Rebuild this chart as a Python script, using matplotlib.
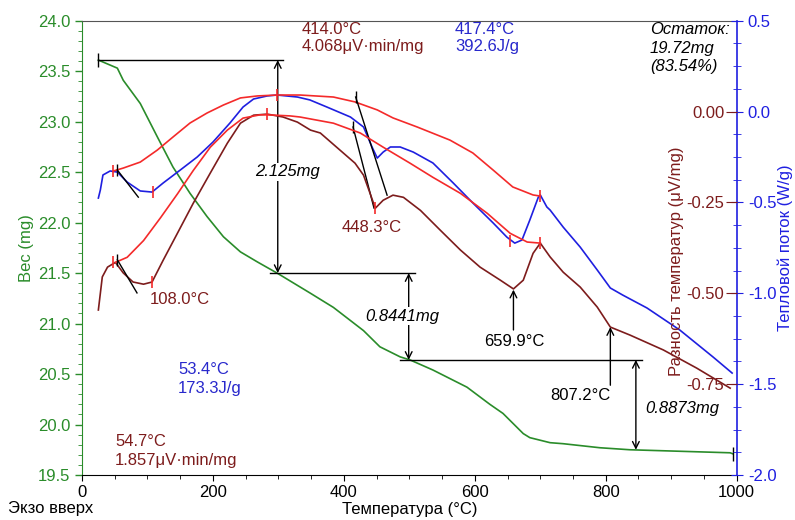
import matplotlib
matplotlib.use('Agg')
import matplotlib.pyplot as plt
from matplotlib.ticker import MultipleLocator, FormatStrFormatter

plt.rcParams['font.family'] = ['Liberation Sans', 'DejaVu Sans']
plt.rcParams['axes.unicode_minus'] = False

# TG curve: weight (mg) vs temperature
tg_t = [25, 54, 63, 89, 115, 139, 165, 191, 216, 242, 268, 298, 349, 384, 430, 455, 486,
        501, 536, 588, 623, 643, 674, 684, 715, 735, 791, 837, 990, 994]
tg_w = [23.61, 23.53, 23.41, 23.18, 22.85, 22.55, 22.29, 22.06, 21.86, 21.71, 21.61, 21.50,
        21.30, 21.16, 20.93, 20.77, 20.67, 20.64, 20.54, 20.37, 20.20, 20.11, 19.91, 19.87,
        19.82, 19.81, 19.77, 19.75, 19.72, 19.71]

# heat flow curve (W/g)
hf_t = [25, 28, 32, 43, 54, 69, 89, 107, 124, 150, 176, 200, 226, 246, 262, 283, 298, 329,
        348, 374, 410, 430, 443, 451, 460, 471, 486, 506, 536, 567, 597, 628, 649, 661, 672,
        684, 697, 700, 710, 715, 735, 761, 787, 807, 826, 863, 913, 964, 993]
hf_v = [-0.476, -0.432, -0.349, -0.327, -0.333, -0.388, -0.437, -0.443, -0.393, -0.322,
        -0.250, -0.168, -0.063, 0.025, 0.069, 0.086, 0.091, 0.080, 0.064, 0.025, -0.030,
        -0.085, -0.195, -0.256, -0.223, -0.195, -0.195, -0.223, -0.283, -0.393, -0.503,
        -0.613, -0.691, -0.724, -0.707, -0.597, -0.471, -0.459, -0.525, -0.542, -0.636,
        -0.746, -0.872, -0.971, -1.010, -1.081, -1.202, -1.351, -1.439]

# heat flow baseline
hfb_t = [48, 63, 89, 115, 139, 165, 191, 216, 242, 268, 298, 333, 384, 417, 451, 475, 512,
         562, 597, 628, 658, 689, 700]
hfb_v = [-0.327, -0.311, -0.278, -0.212, -0.140, -0.063, -0.008, 0.036, 0.075, 0.086,
         0.091, 0.091, 0.080, 0.053, 0.009, -0.035, -0.085, -0.157, -0.228, -0.322, -0.415,
         -0.459, -0.465]

# DTA curve (uV/mg)
dta_t = [25, 31, 39, 51, 63, 78, 94, 107, 124, 146, 170, 196, 222, 242, 262, 283, 307, 329,
         349, 364, 394, 417, 430, 440, 448, 460, 475, 491, 517, 547, 578, 608, 639, 659, 674,
         689, 700, 715, 735, 761, 787, 807, 837, 888, 939, 990]
dta_v = [-0.546, -0.455, -0.428, -0.415, -0.444, -0.469, -0.475, -0.469, -0.409, -0.334,
         -0.252, -0.169, -0.087, -0.032, -0.010, -0.007, -0.015, -0.029, -0.051, -0.059,
         -0.106, -0.142, -0.175, -0.225, -0.266, -0.244, -0.230, -0.236, -0.272, -0.326,
         -0.381, -0.428, -0.464, -0.488, -0.464, -0.390, -0.362, -0.400, -0.442, -0.483,
         -0.538, -0.593, -0.615, -0.656, -0.706, -0.761]

# DTA baseline
dtab_t = [51, 69, 94, 120, 146, 170, 196, 222, 246, 272, 283, 318, 333, 384, 425, 460, 501,
          536, 578, 619, 654, 680, 700]
dtab_v = [-0.415, -0.401, -0.355, -0.292, -0.226, -0.162, -0.098, -0.051, -0.018, -0.009,
          -0.009, -0.012, -0.015, -0.032, -0.059, -0.098, -0.142, -0.181, -0.225, -0.280,
          -0.335, -0.359, -0.362]

# tangent lines
tan_hf = [([54, 86], [-0.322, -0.471]), ([418, 466], [0.080, -0.460]), ([414, 446], [-0.085, -0.531])]
tan_dta = [([54, 84], [-0.408, -0.499])]

# step marks (weight levels)
w_levels = [23.61, 21.50, 20.64, 19.75]
step_x = [299, 499, 846]
step_labels = ['2.125mg', '0.8441mg', '0.8873mg']

green = '#2a8c2a'
blue = '#1f1fe0'
red = '#f42a2a'
dred = '#7d1c1c'
tblue = '#2828cc'

fig = plt.figure(figsize=(7.95, 5.2), dpi=100)
ax = fig.add_axes([82 / 795, 1 - 475 / 520, 654.7 / 795, 454.3 / 520])
ax_hf = ax.twinx()
ax_dta = ax.twinx()

# weight axis
ax.plot(tg_t, tg_w, color=green, lw=1.2)
ax.set_xlim(0, 1000)
ax.set_ylim(19.5, 24.0)
ax.yaxis.set_major_locator(MultipleLocator(0.5))
ax.yaxis.set_minor_locator(MultipleLocator(0.1))
ax.yaxis.set_major_formatter(FormatStrFormatter('%.1f'))
ax.xaxis.set_major_locator(MultipleLocator(200))
ax.xaxis.set_minor_locator(MultipleLocator(50))
ax.tick_params(axis='y', which='major', colors=green, labelsize=12, length=5, width=1)
ax.tick_params(axis='y', which='minor', colors=green, length=3)
ax.tick_params(axis='x', which='major', labelsize=12, length=4)
ax.tick_params(axis='x', which='minor', length=3)
ax.spines['left'].set_color(green)
ax.spines['right'].set_visible(False)
ax.spines['top'].set_color('#555555')
ax.set_ylabel('Вес (mg)', color=green, fontsize=12, labelpad=3)
ax.set_xlabel('Температура (°C)', fontsize=12, labelpad=1)

# heat flow axis
ax_hf.plot(hf_t, hf_v, color=blue, lw=1.2)
ax_hf.plot(hfb_t, hfb_v, color=red, lw=1.2)
for tx, ty in tan_hf:
    ax_hf.plot(tx, ty, color='k', lw=1.0)
ax_hf.plot([54, 418, 414], [-0.322, 0.080, -0.085], ls='none', marker='|', ms=9, color='k', mew=1)
ax_hf.plot([47, 108, 298, 654, 700], [-0.327, -0.443, 0.091, -0.710, -0.465],
           ls='none', marker='|', ms=9, color=red, mew=1.2)
ax_hf.set_ylim(-2.0, 0.5)
ax_hf.yaxis.set_major_locator(MultipleLocator(0.5))
ax_hf.yaxis.set_minor_locator(MultipleLocator(0.125))
ax_hf.yaxis.set_major_formatter(FormatStrFormatter('%.1f'))
ax_hf.tick_params(axis='y', which='major', colors=blue, labelsize=12, direction='inout', length=9)
ax_hf.tick_params(axis='y', which='minor', colors=blue, direction='inout', length=6)
ax_hf.spines['right'].set_color(blue)
ax_hf.spines['right'].set_linewidth(1.2)
for s in ['left', 'top', 'bottom']:
    ax_hf.spines[s].set_visible(False)
ax_hf.set_ylabel('Тепловой поток (W/g)', color=blue, fontsize=12, labelpad=1)

# DTA axis, labels inside the plot on the right
ax_dta.plot(dta_t, dta_v, color=dred, lw=1.2)
ax_dta.plot(dtab_t, dtab_v, color=red, lw=1.2)
for tx, ty in tan_dta:
    ax_dta.plot(tx, ty, color='k', lw=1.0)
ax_dta.plot([54], [-0.408], ls='none', marker='|', ms=9, color='k', mew=1)
ax_dta.plot([48, 107, 283, 448, 700], [-0.415, -0.469, -0.007, -0.266, -0.362],
            ls='none', marker='|', ms=9, color=red, mew=1.2)
ax_dta.set_ylim(-1.0, 0.25)
ax_dta.set_yticks([0.0, -0.25, -0.5, -0.75])
ax_dta.yaxis.set_major_formatter(FormatStrFormatter('%.2f'))
ax_dta.spines['left'].set_position(('axes', 1.0))
ax_dta.yaxis.set_ticks_position('left')
ax_dta.yaxis.set_label_position('left')
for s in ['left', 'right', 'top', 'bottom']:
    ax_dta.spines[s].set_visible(False)
ax_dta.tick_params(axis='y', colors=dred, labelsize=12, length=8, pad=1)
ax_dta.set_ylabel('Разность температур (μV/mg)', color=dred, fontsize=12, labelpad=2)
ax_dta.yaxis.label.set_y(0.47)

# step annotations on weight curve
ax.plot([25, 307], [w_levels[0]] * 2, color='k', lw=1.0)
ax.plot([25], [w_levels[0]], marker='|', ms=10, color='k')
ax.plot([287, 508], [w_levels[1]] * 2, color='k', lw=1.0)
ax.plot([486, 855], [w_levels[2]] * 2, color='k', lw=1.0)
ax.plot([994], [19.71], marker='|', ms=10, color='k')
arrow = dict(arrowstyle='<->', color='k', lw=1.0, mutation_scale=12, shrinkA=0, shrinkB=0)
for i in range(3):
    ax.annotate('', xy=(step_x[i], w_levels[i]), xytext=(step_x[i], w_levels[i + 1]),
                arrowprops=arrow)

# peak arrows on DTA curve
up = dict(arrowstyle='->', color='k', lw=1.0, mutation_scale=12, shrinkA=0, shrinkB=0)
ax_dta.annotate('', xy=(659, -0.490), xytext=(659, -0.601), arrowprops=up)
ax_dta.annotate('', xy=(807, -0.593), xytext=(807, -0.753), arrowprops=up)


def ftext(px, py, s, color='k', ha='left', style='normal', box=False):
    kw = dict(fontsize=12, color=color, ha=ha, va='center', style=style)
    if box:
        kw['bbox'] = dict(facecolor='white', edgecolor='none', pad=1)
    fig.text(px / 795, 1 - py / 520, s, **kw)


ftext(287, 172, step_labels[0], ha='center', style='italic', box=True)
ftext(402, 316, step_labels[1], ha='center', style='italic', box=True)
ftext(645, 409, step_labels[2], style='italic')

ftext(302, 30, '414.0°C', color=dred)
ftext(302, 47, '4.068μV·min/mg', color=dred)
ftext(455, 30, '417.4°C', color=tblue)
ftext(455, 47, '392.6J/g', color=tblue)
ftext(650, 30, 'Остаток:', style='italic')
ftext(650, 48, '19.72mg', style='italic')
ftext(650, 66, '(83.54%)', style='italic')
ftext(178, 370, '53.4°C', color=tblue)
ftext(178, 388, '173.3J/g', color=tblue)
ftext(115, 442, '54.7°C', color=dred)
ftext(115, 460, '1.857μV·min/mg', color=dred)
ftext(150, 299, '108.0°C', color=dred)
ftext(342, 228, '448.3°C', color=dred)
ftext(514, 341, '659.9°C', ha='center')
ftext(580, 395, '807.2°C', ha='center')
ftext(8, 508, 'Экзо вверх')

fig.savefig('out.png', dpi=100)
